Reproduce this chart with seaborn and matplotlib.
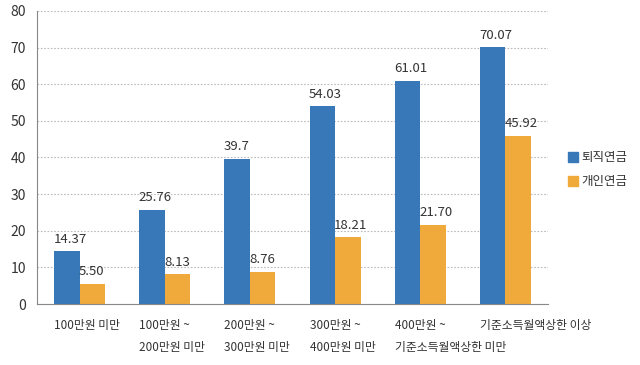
import pandas as pd
import matplotlib.pyplot as plt
import seaborn as sns

# --- Data ---
categories = ["100만원 미만", "100만원 ~\n200만원 미만", "200만원 ~\n300만원 미만",
              "300만원 ~\n400만원 미만", "400만원 ~\n기준소득월액상한 미만", "기준소득월액상한 이상"]
series = ["퇴직연금", "개인연금"]
retire = [14.37, 25.76, 39.7, 54.03, 61.01, 70.07]
personal = [5.50, 8.13, 8.76, 18.21, 21.70, 45.92]
retire_labels = ["14.37", "25.76", "39.7", "54.03", "61.01", "70.07"]
personal_labels = ["5.50", "8.13", "8.76", "18.21", "21.70", "45.92"]

df = pd.DataFrame({
    "group": categories * 2,
    "series": [series[0]] * 6 + [series[1]] * 6,
    "value": retire + personal,
})

sns.set_style("white")
plt.rcParams['font.family'] = ['Noto Sans CJK KR', 'DejaVu Sans']

fig = plt.figure(figsize=(6.4, 3.65), dpi=100)
ax = fig.add_axes([0.058, 0.167, 0.798, 0.803])

palette = {"퇴직연금": "#3878b8", "개인연금": "#f0aa3c"}
sns.barplot(data=df, x="group", y="value", hue="series", order=categories,
            hue_order=series, palette=palette, width=0.6, saturation=1,
            edgecolor="none", ax=ax, legend=False)

# value labels, left aligned on each bar
for cont, labels in zip(ax.containers, [retire_labels, personal_labels]):
    for bar, lab in zip(cont, labels):
        ax.text(bar.get_x() - 0.01, bar.get_height() + 1.5, lab,
                ha="left", va="bottom", fontsize=9.5, color="#333333")

ax.set_xlim(-0.5, 5.5)
ax.set_ylim(0, 80)
ax.set_yticks(range(0, 81, 10))
ax.yaxis.grid(True, linestyle=(0, (1.5, 1.5)), color="#bbbbbb", linewidth=0.8)
ax.set_axisbelow(True)

# category labels left aligned: first line as tick label, second line below it
first_lines = [c.split("\n")[0] for c in categories]
ax.set_xticks([i - 0.3 for i in range(len(categories))])
ax.set_xticklabels(first_lines, ha="left", fontsize=8.5, color="#333333")
for i, c in enumerate(categories):
    parts = c.split("\n")
    if len(parts) > 1:
        ax.annotate(parts[1], xy=(i - 0.3, 0), xycoords=("data", "axes fraction"),
                    xytext=(0, -26.5), textcoords="offset points", ha="left", va="top",
                    fontsize=8.5, color="#333333")
ax.set_xticks([i + 0.5 for i in range(len(categories))], minor=True)
ax.tick_params(axis="x", which="major", length=0, pad=11)
ax.tick_params(axis="x", which="minor", length=5, color="#888888", width=0.8, direction="out")
ax.tick_params(axis="y", length=5, color="#888888", width=0.8, labelsize=10,
               labelcolor="#333333", direction="out", pad=3)
ax.xaxis.set_tick_params(bottom=True)

for s in ["top", "right"]:
    ax.spines[s].set_visible(False)
for s in ["left", "bottom"]:
    ax.spines[s].set_color("#888888")
    ax.spines[s].set_linewidth(0.8)

ax.set_xlabel("")
ax.set_ylabel("")

# legend on the right
handles = [plt.Rectangle((0, 0), 1, 1, color=palette[s]) for s in series]
fig.legend(handles, series, loc="center left", bbox_to_anchor=(0.87, 0.535),
           frameon=False, fontsize=9, handlelength=0.8, handleheight=0.8,
           handletextpad=0.3, labelspacing=0.9, labelcolor="#333333")

plt.savefig("out.png", dpi=100)
plt.close()
